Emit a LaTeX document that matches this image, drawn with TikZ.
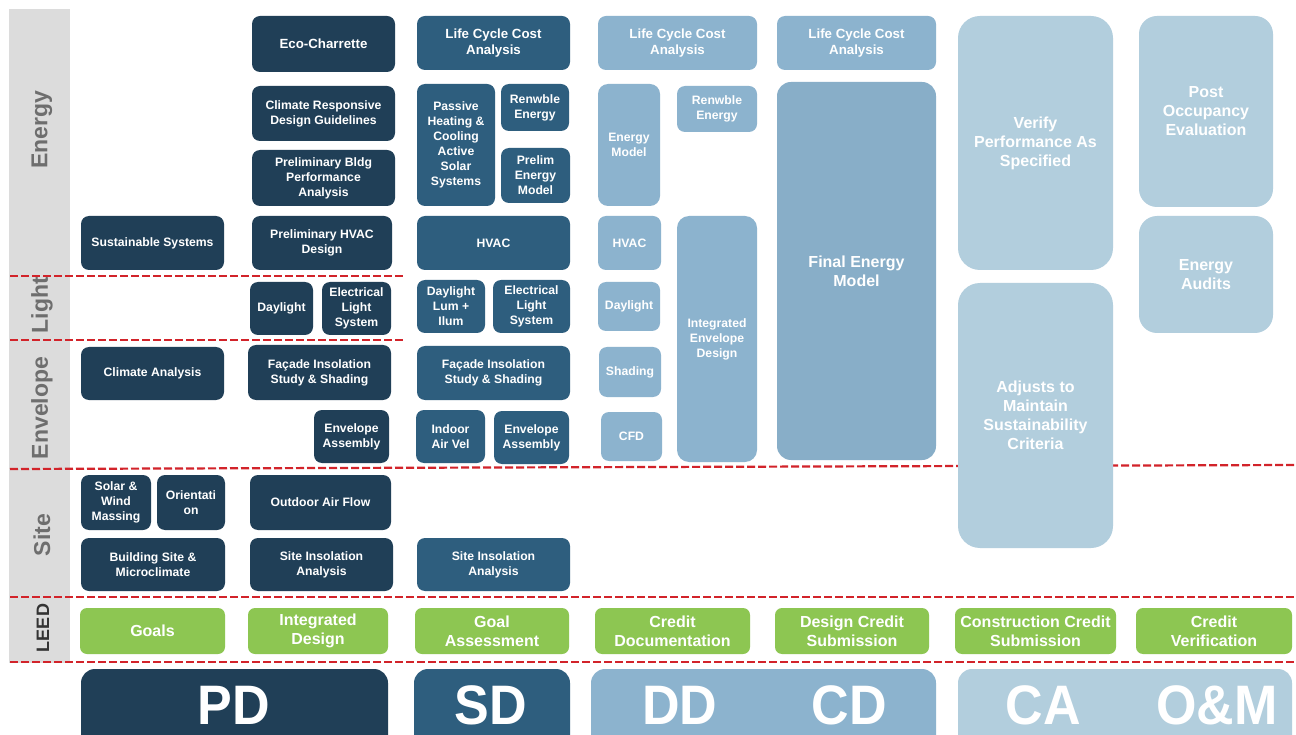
\documentclass[tikz,border=0pt]{standalone}
\usepackage{fontspec}
\setmainfont{Liberation Sans}
\definecolor{pdc}{HTML}{203F57}
\definecolor{sdc}{HTML}{2E5E7E}
\definecolor{ddc}{HTML}{8CB3CE}
\definecolor{cac}{HTML}{B2CEDD}
\definecolor{leedc}{HTML}{8DC652}
\definecolor{bandc}{HTML}{DCDCDC}
\definecolor{sidetxt}{HTML}{6E6E6E}
\definecolor{redc}{HTML}{D2232A}
\newcommand\mybox[7]{%
  \node[#1, minimum width={(#5-#3)*1pt}, minimum height={(#6-#4)*1pt}] (#2) at ({(#3+#5)/2},{(#4+#6)/2}) {#7};}
\tikzset{
  base/.style={rounded corners=8pt, inner sep=0pt, align=center, text=white,
    font=\fontsize{12.2}{15}\selectfont\bfseries},
  pd/.style={base, fill=pdc},
  sd/.style={base, fill=sdc},
  dd/.style={base, fill=ddc},
  mid/.style={font=\fontsize{13.3}{15.5}\selectfont\bfseries},
  big/.style={base, font=\fontsize{16}{19}\selectfont\bfseries},
  leed/.style={base, fill=leedc, rounded corners=7pt, font=\fontsize{16}{19.3}\selectfont\bfseries},
  phase/.style={base, rounded corners=14pt},
  phasetxt/.style={inner sep=0pt, text=white, font=\fontsize{52}{52}\selectfont\bfseries},
  sidelbl/.style={rotate=90, inner sep=0pt, text=sidetxt, font=\fontsize{23}{23}\selectfont\bfseries},
  reddash/.style={draw=redc, line width=2.2pt, dash pattern=on 8pt off 3pt}
}
\begin{document}
\begin{tikzpicture}[x=1pt,y=-1pt]
\useasboundingbox (0,0) rectangle (1296,735);
\clip (0,0) rectangle (1296,735);
\fill[white] (0,0) rectangle (1296,735);
% side band
\fill[bandc] (9,9) rectangle (70,663);
\node[sidelbl] (lenergy) at (42,130) {Energy};
\node[sidelbl] (llight) at (42,305) {Light};
\node[sidelbl] (lenv) at (42,408) {Envelope};
\node[sidelbl] (lsite) at (42,535) {Site};
\node[sidelbl, text=black!80, font=\fontsize{18}{18}\selectfont\bfseries] (lleed) at (43,628) {LEED};
% dashed separators
\coordinate (d1a) at (10,276); \coordinate (d1b) at (405,276);
\coordinate (d2a) at (10,340); \coordinate (d2b) at (405,340);
\coordinate (d3a) at (10,469); \coordinate (d3b) at (1296,465);
\coordinate (d4a) at (10,597); \coordinate (d4b) at (1296,597);
\coordinate (d5a) at (10,662); \coordinate (d5b) at (1296,662);
\draw[reddash] (d1a) -- (d1b);
\draw[reddash] (d2a) -- (d2b);
\draw[reddash] (d3a) -- (d3b);
\draw[reddash] (d4a) -- (d4b);
\draw[reddash] (d5a) -- (d5b);
% PD column A
\mybox{pd}{sust}{81}{216}{224}{270}{Sustainable Systems}
\mybox{pd}{clim}{81}{347}{224}{400}{Climate Analysis}
\mybox{pd}{solar}{81}{475}{151}{530}{Solar \&\\Wind\\Massing}
\mybox{pd}{orient}{157}{475}{225}{530}{Orientati\\on}
\mybox{pd}{bsite}{81}{538}{225}{591}{Building Site \&\\Microclimate}
% PD column B
\mybox{pd, mid}{eco}{252}{16}{395}{72}{Eco-Charrette}
\mybox{pd}{crdg}{252}{86}{395}{141}{Climate Responsive\\Design Guidelines}
\mybox{pd}{pbpa}{252}{150}{395}{206}{Preliminary Bldg\\Performance\\Analysis}
\mybox{pd}{phvac}{252}{216}{392}{270}{Preliminary HVAC\\Design}
\mybox{pd}{pdday}{250}{282}{313}{335}{Daylight}
\mybox{pd}{pdels}{322}{282}{391}{335}{Electrical\\Light\\System}
\mybox{pd}{pdfac}{248}{345}{391}{400}{Façade Insolation\\Study \& Shading}
\mybox{pd}{pdenv}{314}{410}{389}{463}{Envelope\\Assembly}
\mybox{pd}{oaf}{250}{475}{391}{530}{Outdoor Air Flow}
\mybox{pd}{pdsia}{250}{538}{393}{591}{Site Insolation\\Analysis}
% SD column
\mybox{sd, mid}{sdlcc}{417}{16}{570}{70}{Life Cycle Cost\\Analysis}
\mybox{sd}{passive}{417}{84}{495}{206}{Passive\\Heating \&\\Cooling\\Active\\Solar\\Systems}
\mybox{sd}{sdren}{501}{84}{569}{131}{Renwble\\Energy}
\mybox{sd}{pem}{501}{148}{570}{203}{Prelim\\Energy\\Model}
\mybox{sd}{sdhvac}{417}{216}{570}{270}{HVAC}
\mybox{sd}{sdday}{417}{280}{485}{333}{Daylight\\Lum +\\Ilum}
\mybox{sd}{sdels}{493}{280}{570}{333}{Electrical\\Light\\System}
\mybox{sd}{sdfac}{417}{346}{570}{400}{Façade Insolation\\Study \& Shading}
\mybox{sd}{iav}{416}{410}{485}{463}{Indoor\\Air Vel}
\mybox{sd}{sdenv}{494}{411}{569}{464}{Envelope\\Assembly}
\mybox{sd}{sdsia}{417}{538}{570}{591}{Site Insolation\\Analysis}
% DD column
\mybox{dd, mid}{ddlcc}{598}{16}{757}{70}{Life Cycle Cost\\Analysis}
\mybox{dd, rounded corners=10pt}{emodel}{598}{84}{660}{206}{Energy\\Model}
\mybox{dd}{ddren}{677}{86}{757}{132}{Renwble\\Energy}
\mybox{dd}{ddhvac}{598}{216}{661}{270}{HVAC}
\mybox{dd}{ddday}{598}{282}{660}{331}{Daylight}
\mybox{dd}{shading}{599}{347}{661}{397}{Shading}
\mybox{dd}{cfd}{601}{412}{662}{461}{CFD}
\mybox{dd, rounded corners=12pt}{ied}{677}{216}{757}{462}{Integrated\\Envelope\\Design}
% CD column
\mybox{dd, mid}{cdlcc}{777}{16}{936}{70}{Life Cycle Cost\\Analysis}
\mybox{big, fill=ddc!97!black, rounded corners=14pt}{fem}{777}{82}{936}{460}{Final Energy\\Model}
% CA column
\mybox{big, fill=cac, rounded corners=22pt}{verify}{958}{16}{1113}{270}{Verify\\Performance As\\Specified}
\mybox{big, fill=cac, rounded corners=22pt}{adjust}{958}{283}{1113}{548}{Adjusts to\\Maintain\\Sustainability\\Criteria}
% O&M column
\mybox{big, fill=cac, rounded corners=18pt}{poe}{1139}{16}{1273}{207}{Post\\Occupancy\\Evaluation}
\mybox{big, fill=cac, rounded corners=18pt}{audit}{1139}{216}{1273}{333}{Energy\\Audits}
% LEED row
\mybox{leed}{goals}{80}{608}{225}{654}{Goals}
\mybox{leed}{intd}{248}{608}{388}{654}{Integrated\\Design}
\mybox{leed}{gass}{415}{608}{569}{654}{Goal\\Assessment}
\mybox{leed}{cdoc}{595}{608}{750}{654}{Credit\\Documentation}
\mybox{leed}{dcs}{775}{608}{929}{654}{Design Credit\\Submission}
\mybox{leed}{ccs}{955}{608}{1116}{654}{Construction Credit\\Submission}
\mybox{leed}{cver}{1136}{608}{1292}{654}{Credit\\Verification}
% phase boxes
\mybox{phase, fill=pdc}{ppd}{81}{669}{388}{770}{}
\mybox{phase, fill=sdc}{psd}{414}{669}{570}{770}{}
\mybox{phase, fill=ddc}{pddcd}{591}{669}{936}{770}{}
\mybox{phase, fill=cac}{pcaom}{958}{669}{1292}{770}{}
\node[phasetxt] (tpd) at (234,705) {\scalebox{1}[1.07]{PD}};
\node[phasetxt] (tsd) at (491,705) {\scalebox{1}[1.07]{SD}};
\node[phasetxt] (tdd) at (680,705) {\scalebox{1}[1.07]{DD}};
\node[phasetxt] (tcd) at (849,705) {\scalebox{1}[1.07]{CD}};
\node[phasetxt] (tca) at (1043,705) {\scalebox{1}[1.07]{CA}};
\node[phasetxt] (tom) at (1217,705) {\scalebox{1}[1.07]{O\&M}};
\end{tikzpicture}
\end{document}
